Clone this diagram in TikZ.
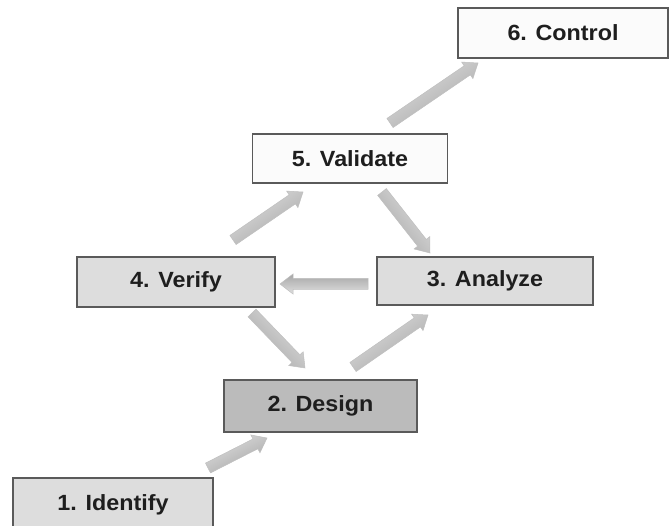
\documentclass[tikz,border=0pt]{standalone}
\usepackage{fontspec}
\setmainfont{Liberation Sans}[FakeStretch=1.06]
\usetikzlibrary{calc}

\definecolor{boxline}{HTML}{5A5A5A}
\definecolor{txt}{HTML}{1E1E1E}
\definecolor{fillwhite}{HTML}{FBFBFB}
\definecolor{filllight}{HTML}{DDDDDD}
\definecolor{filldark}{HTML}{BBBBBB}

\tikzset{
  stage/.style={draw=boxline, line width=1.1pt, inner sep=0pt,
    text=txt, font=\fontsize{22}{26}\selectfont\bfseries},
  % broad block arrow built between two points
  fatarrow/.style={draw=gray!50, line width=0.5pt,
    top color=gray!25, bottom color=gray!70,
    to path={
      ($(\tikztostart)!5.5pt!90:(\tikztotarget)$) --
      ($($(\tikztotarget)!13pt!(\tikztostart)$)!5.5pt!90:(\tikztotarget)$) --
      ($($(\tikztotarget)!13pt!(\tikztostart)$)!10pt!90:(\tikztotarget)$) --
      (\tikztotarget) --
      ($($(\tikztotarget)!13pt!(\tikztostart)$)!10pt!-90:(\tikztotarget)$) --
      ($($(\tikztotarget)!13pt!(\tikztostart)$)!5.5pt!-90:(\tikztotarget)$) --
      ($(\tikztostart)!5.5pt!-90:(\tikztotarget)$) -- cycle
    }}
}

\begin{document}
\begin{tikzpicture}[x=1pt,y=-1pt]
\useasboundingbox (0,0) rectangle (672,526);

% stages
\node[stage, fill=fillwhite, minimum width=210pt, minimum height=50pt] (ctrl) at (563,33) {6. Control};
\node[stage, fill=fillwhite, minimum width=195pt, minimum height=49pt] (valid) at (350,158.5) {5. Validate};
\node[stage, fill=filllight, minimum width=198pt, minimum height=50pt] (verif) at (176,282) {4. Verify};
\node[stage, fill=filllight, minimum width=216pt, minimum height=48pt] (analy) at (485,281) {3. Analyze};
\node[stage, fill=filldark, minimum width=193pt, minimum height=52pt] (design) at (320.5,406) {2. Design};
\node[stage, fill=filllight, minimum width=200pt, minimum height=54pt] (ident) at (113,505) {1. Identify};

% arrow end points
\coordinate (a12s) at (208,468);  \coordinate (a12e) at (267,438);
\coordinate (a23s) at (353,367);  \coordinate (a23e) at (428,315);
\coordinate (a34s) at (368,284);  \coordinate (a34e) at (280,284);
\coordinate (a42s) at (252,313);  \coordinate (a42e) at (305,368);
\coordinate (a45s) at (233,240);  \coordinate (a45e) at (303,192);
\coordinate (a53s) at (382,192);  \coordinate (a53e) at (430,253);
\coordinate (a56s) at (390,123);  \coordinate (a56e) at (478,63);

% block arrows
\draw[fatarrow, shading angle=27]  (a12s) to (a12e);
\draw[fatarrow, shading angle=35]  (a23s) to (a23e);
\draw[fatarrow, shading angle=180] (a34s) to (a34e);
\draw[fatarrow, shading angle=-46] (a42s) to (a42e);
\draw[fatarrow, shading angle=34]  (a45s) to (a45e);
\draw[fatarrow, shading angle=-52] (a53s) to (a53e);
\draw[fatarrow, shading angle=34]  (a56s) to (a56e);
\end{tikzpicture}
\end{document}
